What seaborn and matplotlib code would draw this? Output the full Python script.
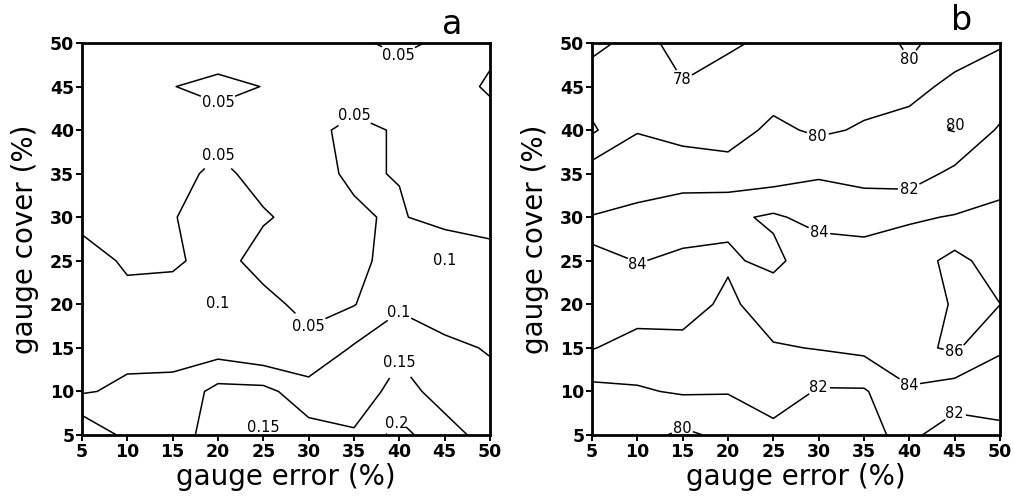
import numpy as np
import matplotlib
matplotlib.use("Agg")
import matplotlib.pyplot as plt
import seaborn as sns

# grid axes (%)
gauge_error = [5, 10, 15, 20, 25, 30, 35, 40, 45, 50]
gauge_cover = [5, 10, 15, 20, 25, 30, 35, 40, 45, 50]
ticks = [5, 10, 15, 20, 25, 30, 35, 40, 45, 50]

# panel a: rows = gauge cover 5..50, columns = gauge error 5..50
values_a = [
    [0.195, 0.136, 0.140, 0.160, 0.147, 0.170, 0.153, 0.220, 0.160, 0.140],
    [0.095, 0.110, 0.112, 0.166, 0.165, 0.120, 0.135, 0.160, 0.140, 0.120],
    [0.085, 0.085, 0.085, 0.077, 0.056, 0.060, 0.105, 0.145, 0.115, 0.095],
    [0.075, 0.060, 0.065, 0.101, 0.060, 0.040, 0.048, 0.090, 0.065, 0.080],
    [0.065, 0.045, 0.045, 0.062, 0.038, 0.035, 0.040, 0.065, 0.101, 0.070],
    [0.040, 0.035, 0.048, 0.068, 0.053, 0.040, 0.045, 0.055, 0.030, 0.030],
    [0.035, 0.035, 0.040, 0.057, 0.040, 0.040, 0.055, 0.048, 0.030, 0.030],
    [0.030, 0.035, 0.040, 0.040, 0.040, 0.045, 0.055, 0.048, 0.035, 0.040],
    [0.030, 0.035, 0.0495, 0.056, 0.0495, 0.040, 0.040, 0.035, 0.040, 0.053],
    [0.030, 0.030, 0.035, 0.035, 0.035, 0.045, 0.045, 0.056, 0.045, 0.045],
]
levels_a = [0.05, 0.1, 0.15, 0.2]
label_spots_a = [(20, 41.7), (20, 37.8), (35, 41.9), (40, 48.8), (45, 25.1),
                 (19.8, 20.2), (30, 17.5), (40, 19.0), (40, 13.4), (25, 6.0),
                 (40, 6.0)]

# panel b: rows = gauge cover 5..50, columns = gauge error 5..50
values_b = [
    [81.0, 80.8, 79.6, 80.5, 81.2, 81.0, 81.6, 82.4, 81.0, 81.5],
    [81.4, 81.8, 82.2, 82.1, 83.3, 81.8, 81.8, 83.75, 83.0, 83.0],
    [84.1, 83.2, 83.3, 83.2, 83.8, 84.1, 84.5, 85.5, 86.3, 84.2],
    [85.0, 85.0, 85.0, 83.5, 85.3, 85.2, 85.3, 85.4, 86.1, 86.02],
    [85.2, 83.9, 84.4, 84.3, 83.5, 85.3, 85.2, 85.0, 86.6, 85.0],
    [82.05, 82.4, 83.0, 83.6, 84.3, 83.3, 83.0, 83.8, 84.1, 84.4],
    [81.0, 81.2, 81.2, 80.8, 81.0, 81.8, 81.5, 81.0, 82.5, 83.4],
    [77.7, 79.9, 79.3, 79.2, 80.4, 79.7, 80.2, 80.6, 79.9, 82.3],
    [79.0, 79.0, 78.1, 78.6, 79.2, 79.0, 79.3, 79.5, 80.4, 80.3],
    [77.5, 78.6, 77.4, 77.8, 78.3, 78.8, 79.0, 80.3, 79.2, 79.95],
]
levels_b = [78, 80, 82, 84, 86]
label_spots_b = [(15, 45.8), (40, 48.0), (29.8, 39.0), (45, 40.5), (40, 33.2),
                 (30, 28.0), (10, 24.6), (40, 10.8), (45, 14.2), (30, 10.5),
                 (45, 7.8), (15, 5.6)]

sns.set_theme(style="ticks")
plt.rcParams["font.family"] = ["DejaVu Sans"]
plt.rcParams["text.color"] = "black"
plt.rcParams["axes.labelcolor"] = "black"

fig = plt.figure(figsize=(10.14, 4.97), dpi=100)
W, H = 1014.0, 497.0
ax_a = fig.add_axes([82 / W, 62 / H, 408 / W, 392 / H])
ax_b = fig.add_axes([592 / W, 62 / H, 408 / W, 392 / H])


def draw_panel(ax, values, levels, fmt, spots, tag, tag_xy):
    cs = ax.contour(gauge_error, gauge_cover, np.array(values), levels=levels,
                    colors="black", linewidths=1.1)
    ax.clabel(cs, levels, fmt=fmt, inline=True, inline_spacing=2,
              fontsize=10.5, manual=spots)
    for t in cs.labelTexts:
        t.set_rotation(0)
        t.set_color("black")
    ax.set_xlim(5, 50)
    ax.set_ylim(5, 50)
    ax.set_xticks(ticks)
    ax.set_yticks(ticks)
    ax.tick_params(direction="out", length=4, width=1.4, labelsize=12.5,
                   pad=1.5, colors="black")
    for lab in ax.get_xticklabels() + ax.get_yticklabels():
        lab.set_fontweight("bold")
    for s in ax.spines.values():
        s.set_visible(True)
        s.set_linewidth(2.0)
        s.set_color("black")
    ax.set_facecolor("white")
    ax.set_xlabel("gauge error (%)", fontsize=20)
    ax.set_ylabel("gauge cover (%)", fontsize=20)
    ax.xaxis.set_label_coords(0.5, -0.072)
    ax.yaxis.set_label_coords(-0.105, 0.5)
    fig.text(tag_xy[0] / W, 1 - tag_xy[1] / H, tag, fontsize=24,
             ha="center", va="center", color="black")


draw_panel(ax_a, values_a, levels_a, lambda v: f"{v:g}", label_spots_a, "a", (452, 24))
draw_panel(ax_b, values_b, levels_b, lambda v: f"{v:g}", label_spots_b, "b", (962, 20))

fig.savefig("out.png", dpi=100, facecolor="white")
